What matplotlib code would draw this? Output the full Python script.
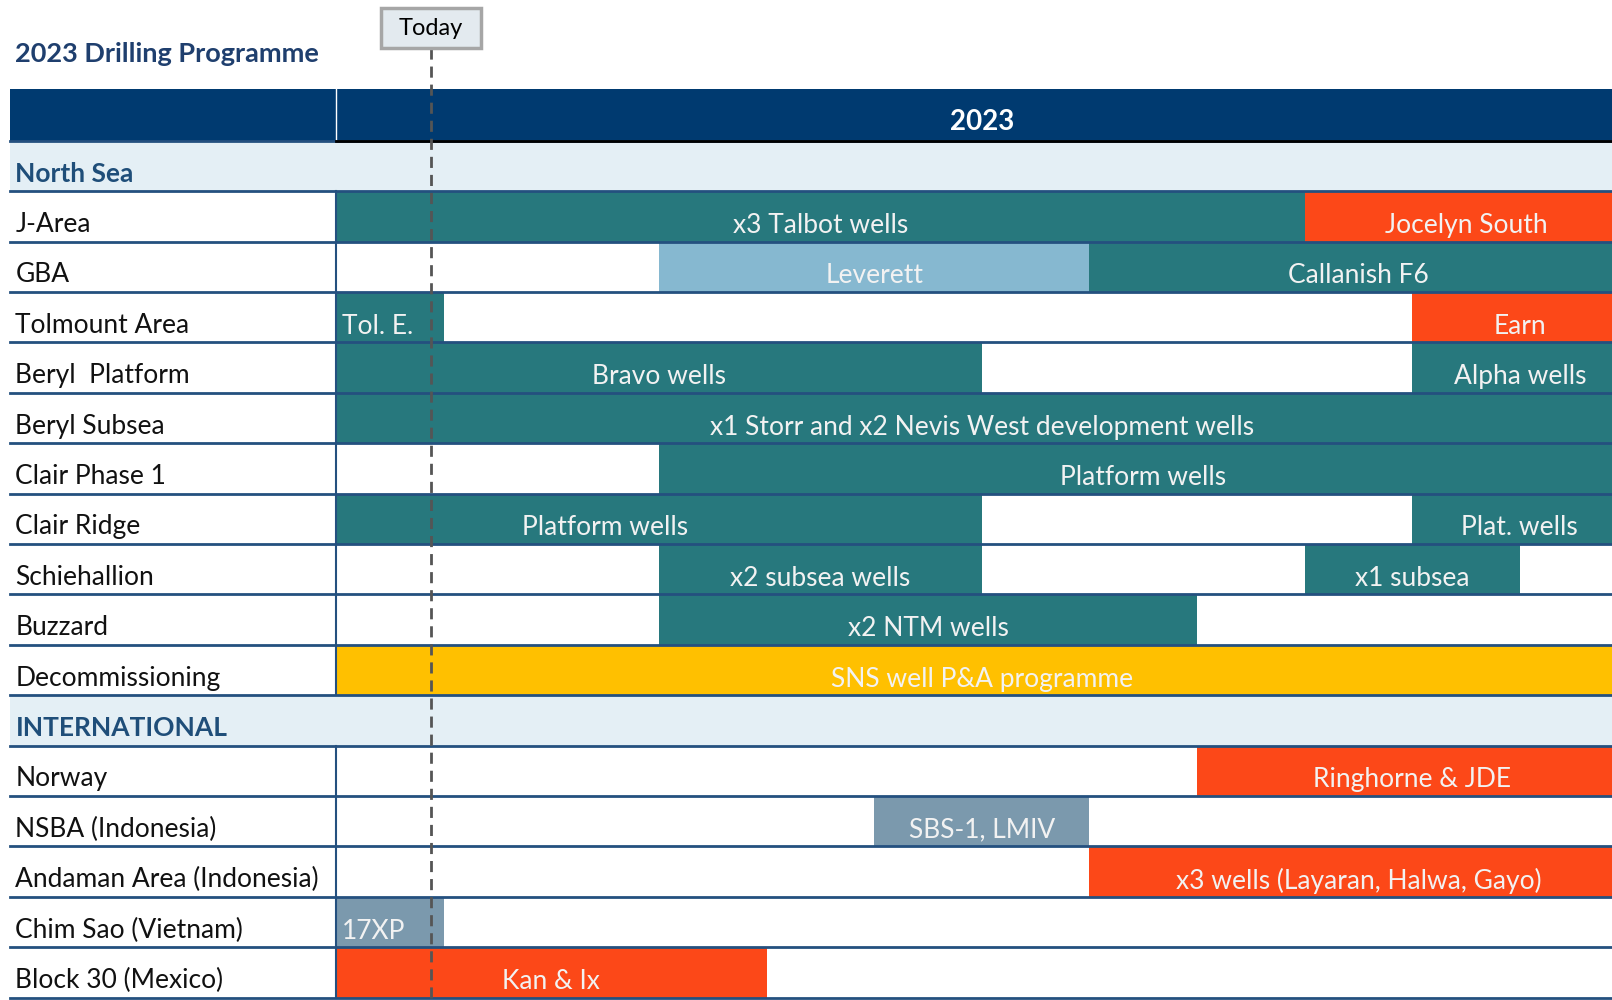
import matplotlib
matplotlib.use("Agg")
import matplotlib.pyplot as plt
from matplotlib.patches import Rectangle

plt.rcParams['font.family'] = ['Lato', 'DejaVu Sans']

# ---- data -------------------------------------------------------------
title = "2023 Drilling Programme"
year_label = "2023"
today_month = 0.88

row_names = ["North Sea", "J-Area", "GBA", "Tolmount Area", "Beryl  Platform",
             "Beryl Subsea", "Clair Phase 1", "Clair Ridge", "Schiehallion",
             "Buzzard", "Decommissioning", "INTERNATIONAL", "Norway",
             "NSBA (Indonesia)", "Andaman Area (Indonesia)", "Chim Sao (Vietnam)",
             "Block 30 (Mexico)"]
section_rows = ["North Sea", "INTERNATIONAL"]

# activity bars, in months from start of 2023
bar_rows   = ["J-Area", "J-Area", "GBA", "GBA", "Tolmount Area", "Tolmount Area",
              "Beryl  Platform", "Beryl  Platform", "Beryl Subsea", "Clair Phase 1",
              "Clair Ridge", "Clair Ridge", "Schiehallion", "Schiehallion", "Buzzard",
              "Decommissioning", "Norway", "NSBA (Indonesia)",
              "Andaman Area (Indonesia)", "Chim Sao (Vietnam)", "Block 30 (Mexico)"]
bar_start  = [0, 9, 3, 7, 0, 10, 0, 10, 0, 3, 0, 10, 3, 9, 3, 0, 8, 5, 7, 0, 0]
bar_end    = [9, 12, 7, 12, 1, 12, 6, 12, 12, 12, 6, 12, 6, 11, 8, 12, 12, 7, 12, 1, 4]
bar_labels = ["x3 Talbot wells", "Jocelyn South", "Leverett", "Callanish F6",
              "Tol. E.", "Earn", "Bravo wells", "Alpha wells",
              "x1 Storr and x2 Nevis West development wells", "Platform wells",
              "Platform wells", "Plat. wells", "x2 subsea wells", "x1 subsea",
              "x2 NTM wells", "SNS well P&A programme", "Ringhorne & JDE",
              "SBS-1, LMIV", "x3 wells (Layaran, Halwa, Gayo)", "17XP", "Kan & Ix"]
bar_kind   = ["drill", "new", "appraise", "drill", "drill", "new", "drill", "drill",
              "drill", "drill", "drill", "drill", "drill", "drill", "drill",
              "decom", "new", "intl", "new", "intl", "new"]
# label centre override (None = middle of bar, "left" = left aligned)
label_pos  = [None, None, None, None, "left", None, None, None, None, None,
              2.5, None, None, None, None, None, None, None, None, "left", None]

colors = {"drill": "#27787D", "new": "#FC4818", "appraise": "#86B8D0",
          "intl": "#7B99AD", "decom": "#FFC000"}

NAVY = "#003A70"
LINE = "#24507F"
BAND = "#E4EFF5"
FS = 19

# ---- figure -------------------------------------------------------------
fig = plt.figure(figsize=(16.12, 10), dpi=100)
ax = fig.add_axes([0, 0, 1, 1])
ax.set_xlim(-3.124, 11.857)
ax.set_ylim(17.048, -2.794)
ax.axis('off')

left = -3.03
right = 12.5
n = len(row_names)

# header band
ax.add_patch(Rectangle((left, -1.02), right - left, 1.02, color=NAVY, lw=0, zorder=1))
ax.plot([0, 0], [-1.02, 0], color="white", lw=1, zorder=2)
ax.plot([0, right], [0, 0], color="black", lw=2, zorder=3)
ax.text(6, -0.37, year_label, color="white", fontsize=20, fontweight="bold",
        ha="center", va="center", zorder=4)

# rows
for i, name in enumerate(row_names):
    if name in section_rows:
        ax.add_patch(Rectangle((left, i), right - left, 1, color=BAND, lw=0, zorder=1))
        ax.text(-2.98, i + 0.66, name, color="#1F4E79", fontsize=FS,
                fontweight="bold", ha="left", va="center", zorder=4)
    else:
        ax.text(-2.98, i + 0.66, name, color="#111111", fontsize=FS,
                ha="left", va="center", zorder=4)
        ax.plot([0, 0], [i, i + 1], color=LINE, lw=1.5, zorder=3)

# bars
for r, s, e, lab, k, pos in zip(bar_rows, bar_start, bar_end, bar_labels,
                                bar_kind, label_pos):
    i = row_names.index(r)
    ax.add_patch(Rectangle((s, i), e - s, 1, color=colors[k], lw=0, zorder=2))
    if pos == "left":
        ax.text(s + 0.05, i + 0.68, lab, color="#F2F2F2", fontsize=FS,
                ha="left", va="center", zorder=4)
    else:
        cx = (s + e) / 2 if pos is None else pos
        ax.text(cx, i + 0.68, lab, color="#F2F2F2", fontsize=FS,
                ha="center", va="center", zorder=4)

# horizontal row lines
for i in range(1, n + 1):
    ax.plot([left, right], [i, i], color=LINE, lw=2, zorder=3)
ax.plot([left, right], [0, 0], color=LINE, lw=2, zorder=2)

# title
ax.text(-2.98, -1.73, title, color="#1F3F6E", fontsize=19.5, fontweight="bold",
        ha="left", va="center")

# today marker
ax.plot([today_month, today_month], [-1.835, n], color="#555555", lw=2,
        ls=(0, (4, 2.5)), zorder=5)
ax.add_patch(Rectangle((0.416, -2.63), 0.93, 0.795, facecolor="#E3EAEF",
                       edgecolor="#A6A6A6", lw=2.5, zorder=6))
ax.text(today_month, -2.22, "Today", color="black", fontsize=17,
        ha="center", va="center", zorder=7)

fig.savefig("out.png", dpi=100)
